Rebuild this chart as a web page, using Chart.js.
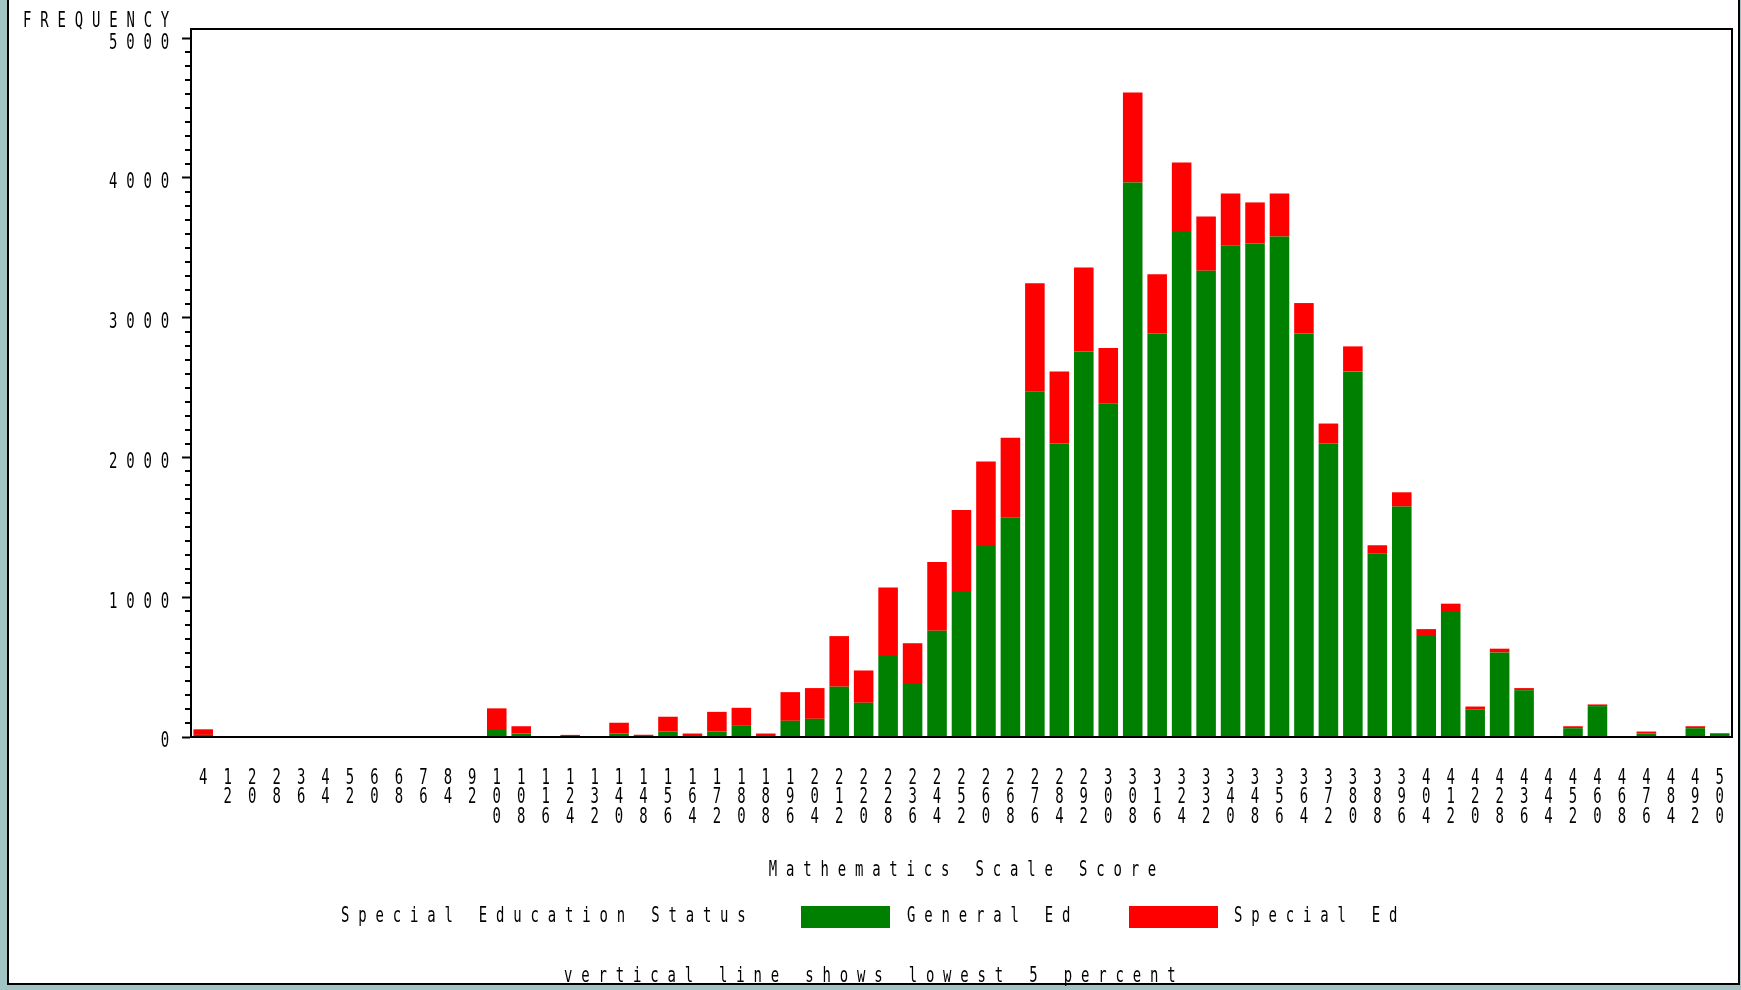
<!DOCTYPE html>
<html><head><meta charset="utf-8">
<script src="https://cdn.jsdelivr.net/npm/chart.js@4.4.1/dist/chart.umd.min.js"></script>
<style>html,body{margin:0;padding:0;background:#a0c4c4;overflow:hidden}canvas{display:block}</style>
</head><body>
<canvas id="c" width="1741" height="990"></canvas>
<script>
// ---- data ----
const categories = [4,12,20,28,36,44,52,60,68,76,84,92,100,108,116,124,132,140,148,156,164,172,180,188,196,204,212,220,228,236,244,252,260,268,276,284,292,300,308,316,324,332,340,348,356,364,372,380,388,396,404,412,420,428,436,444,452,460,468,476,484,492,500];
const generalEd = [15,0,0,0,0,0,0,0,0,0,0,0,50,25,0,0,0,25,0,40,3,40,80,0,116,130,360,245,579,386,761,1044,1367,1572,2474,2100,2758,2385,3968,2887,3620,3337,3519,3530,3582,2886,2100,2616,1315,1649,722,901,195,605,335,0,63,221,0,25,0,63,27];
const specialEd = [40,0,0,0,0,0,0,0,0,0,0,0,155,52,0,15,0,77,16,105,22,140,129,25,205,220,362,231,490,285,491,581,604,569,773,516,602,398,643,424,490,387,370,295,307,219,143,179,57,102,50,53,23,27,15,0,14,12,0,14,0,14,0];
const yTickValues = [0,1000,2000,3000,4000,5000];
const seriesNames = ['General Ed','Special Ed'];
const seriesColors = ['#008000','#ff0000'];
const yAxisTitle = 'FREQUENCY';
const xAxisTitle = 'Mathematics Scale Score';
const legendTitle = 'Special Education Status';
const footnote = 'vertical line shows lowest 5 percent';

// ---- text style helpers ----
const FONT_FAMILY = "'DejaVu Sans Mono', monospace";
const FONT_PX = 20.5;
const SX = 0.68;
const SPACING = 13;
const Y_LABEL_DROP = 5;

function spacedText(ctx, str, x, y, align) {
  ctx.save();
  ctx.font = FONT_PX + 'px ' + FONT_FAMILY;
  ctx.letterSpacing = '0px';
  const base = ctx.measureText(str).width;
  const w = (base + (str.length - 1) * SPACING) * SX;
  ctx.letterSpacing = SPACING + 'px';
  ctx.textBaseline = 'middle';
  ctx.textAlign = 'left';
  ctx.fillStyle = '#000';
  let x0 = x;
  if (align === 'center') x0 = x - w / 2; else if (align === 'right') x0 = x - w;
  ctx.translate(x0, y);
  ctx.scale(SX, 1);
  ctx.fillText(str, 0, 0);
  ctx.restore();
}

const condensePlugin = {
  id: 'condense',
  afterLayout(chart) {
    ['x', 'y'].forEach(id => {
      const s = chart.scales[id];
      if (!s || s.__wrapped) return;
      const orig = s.drawLabels;
      s.drawLabels = function (ca) {
        const items = this.getLabelItems(ca);
        const ctx = this.ctx;
        const dy = id === 'y' ? Y_LABEL_DROP : 0;
        const saved = items.map(it => (it.options && it.options.translation) ? it.options.translation : null);
        items.forEach((it, i) => { if (saved[i]) it.options.translation = [saved[i][0] / SX, saved[i][1] + dy]; });
        const origClip = ctx.clip;
        ctx.clip = function () {};
        ctx.save();
        ctx.scale(SX, 1);
        if (id === 'y') ctx.letterSpacing = SPACING + 'px';
        try { orig.call(this, ca); } finally {
          ctx.restore();
          ctx.clip = origClip;
          items.forEach((it, i) => { if (saved[i]) it.options.translation = saved[i]; });
        }
      };
      s.__wrapped = true;
    });
  }
};

const backgroundPlugin = {
  id: 'panel',
  beforeDraw(chart) {
    const ctx = chart.ctx;
    ctx.save();
    ctx.fillStyle = '#a0c4c4';
    ctx.fillRect(0, 0, chart.width, chart.height);
    ctx.fillStyle = '#ffffff';
    ctx.fillRect(9, 0, 1729, 983);
    ctx.fillStyle = '#000000';
    ctx.fillRect(7, 0, 2, 985);
    ctx.fillRect(7, 983, 1733, 2);
    ctx.fillRect(1738, 0, 2, 985);
    ctx.restore();
  }
};

const decorPlugin = {
  id: 'decor',
  afterDraw(chart) {
    const ctx = chart.ctx;
    const a = chart.chartArea;
    const ys = chart.scales.y;
    ctx.save();
    ctx.strokeStyle = '#000';
    ctx.lineWidth = 2;
    ctx.strokeRect(a.left, a.top, a.right - a.left, a.bottom - a.top);
    ctx.beginPath();
    for (let v = 100; v < 5000; v += 100) {
      if (v % 1000 === 0) continue;
      const py = Math.round(ys.getPixelForValue(v));
      ctx.moveTo(a.left - 6, py);
      ctx.lineTo(a.left, py);
    }
    ctx.stroke();
    ctx.restore();
    spacedText(ctx, yAxisTitle, 23, 22, 'left');
    spacedText(ctx, xAxisTitle, (a.left + a.right) / 2 + 1, 871, 'center');
    spacedText(ctx, legendTitle, 341, 917, 'left');
    const ds = chart.data.datasets;
    const sw = [[801, 907], [1129, 1234]];
    ds.forEach((d, i) => {
      ctx.save();
      ctx.fillStyle = d.backgroundColor;
      ctx.fillRect(sw[i][0], 906, 89, 22);
      ctx.restore();
      spacedText(ctx, d.label, sw[i][1], 917, 'left');
    });
    spacedText(ctx, footnote, 564, 977, 'left');
  }
};

new Chart(document.getElementById('c'), {
  type: 'bar',
  data: {
    labels: categories,
    datasets: [
      { label: seriesNames[0], data: generalEd, backgroundColor: seriesColors[0], borderWidth: 0, barPercentage: 0.8, categoryPercentage: 1 },
      { label: seriesNames[1], data: specialEd, backgroundColor: seriesColors[1], borderWidth: 0, barPercentage: 0.8, categoryPercentage: 1 }
    ]
  },
  options: {
    responsive: false,
    animation: false,
    devicePixelRatio: 1,
    layout: { padding: { left: 0, right: 9, top: 29, bottom: 0 } },
    plugins: { legend: { display: false }, tooltip: { enabled: false }, title: { display: false } },
    scales: {
      x: {
        stacked: true,
        grid: { display: false, drawTicks: false, tickLength: 0 },
        border: { display: true, color: '#000', width: 2 },
        ticks: {
          autoSkip: false, maxRotation: 0, minRotation: 0, padding: 32,
          color: '#000',
          font: { family: FONT_FAMILY, size: FONT_PX, lineHeight: '19.3px' },
          callback: function (v, i) { return String(categories[i]).split(''); }
        },
        afterFit: s => { s.height = 253; s.paddingLeft = 0; s.paddingRight = 0; }
      },
      y: {
        stacked: true,
        min: 0,
        max: 5066,
        afterBuildTicks: s => { s.ticks = yTickValues.map(v => ({ value: v })); },
        grid: { display: true, drawOnChartArea: false, drawTicks: true, tickLength: 9, tickWidth: 2, tickColor: '#000' },
        border: { display: true, color: '#000', width: 2 },
        ticks: {
          padding: 4, color: '#000',
          font: { family: FONT_FAMILY, size: FONT_PX },
          callback: v => String(v)
        },
        afterFit: s => { s.width = 191; s.paddingTop = 0; s.paddingBottom = 0; }
      }
    }
  },
  plugins: [backgroundPlugin, condensePlugin, decorPlugin]
});
</script>
</body></html>
